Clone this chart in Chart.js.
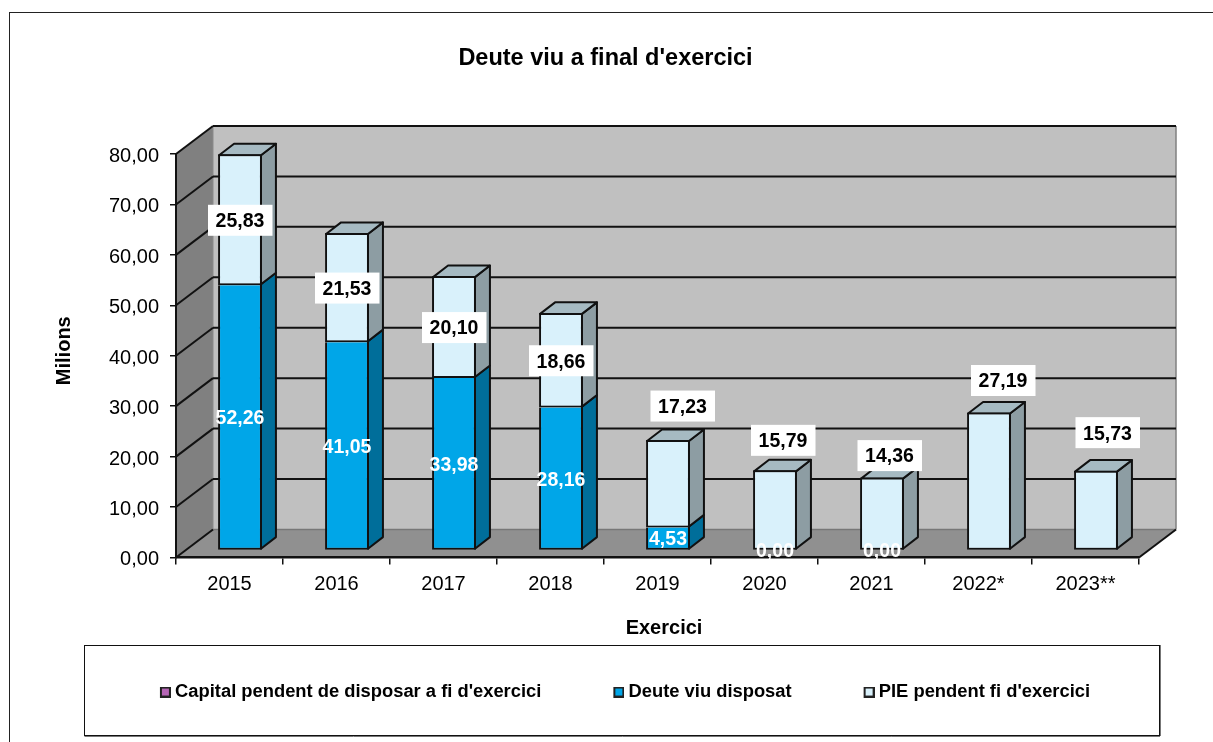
<!DOCTYPE html>
<html>
<head>
<meta charset="utf-8">
<title>Deute viu a final d'exercici</title>
<style>html,body{margin:0;padding:0;background:#fff}canvas{display:block}</style>
<script src="https://cdn.jsdelivr.net/npm/chart.js@4"></script>
</head>
<body>
<canvas id="c" width="1213" height="742"></canvas>
<script>
const years = ['2015','2016','2017','2018','2019','2020','2021','2022*','2023**'];
const capitalPendent = [null,null,null,null,null,null,null,null,null];
const deuteViu = [52.26,41.05,33.98,28.16,4.53,0,0,null,null];
const piePendent = [25.83,21.53,20.10,18.66,17.23,15.79,14.36,27.19,15.73];
const yTicks = {min:0,max:80,step:10};

// manual placement of the PIE labels that sit above their bars (px from bar top / centre)
const pieLabelNudge = [null,null,null,null,[14.5,-35],[8,-31],[7.5,-23],[14,-33],[11.5,-39]];

const FONT = '"Liberation Sans", Arial, sans-serif';
const fmt = v => v.toFixed(2).replace('.',',');
const LINE = '#111';
const FRONT = {dx:10.5, dy:-7, k:1.006};   // bars sit inside the floor depth (slight perspective scale)
const DEPTH = {dx:37, dy:-28};      // wall offset
const BAR3D = {dx:15, dy:-11.5};    // bar depth
const COLORS = ['#B565B5','#00A6E8','#D9F1FB'];

function poly(ctx, pts, fill, stroke, lw){
  ctx.beginPath();
  pts.forEach((p,i)=> i?ctx.lineTo(p[0],p[1]):ctx.moveTo(p[0],p[1]));
  ctx.closePath();
  if(fill){ctx.fillStyle=fill;ctx.fill();}
  if(stroke){ctx.strokeStyle=stroke;ctx.lineWidth=lw||2;ctx.lineJoin='round';ctx.stroke();}
}
function seg(ctx,x1,y1,x2,y2,color,lw){
  ctx.beginPath();ctx.moveTo(x1,y1);ctx.lineTo(x2,y2);ctx.strokeStyle=color;ctx.lineWidth=lw;ctx.stroke();
}
function swatch(color){
  const c=document.createElement('canvas');c.width=16;c.height=11;
  const g=c.getContext('2d');
  g.fillStyle=color;g.fillRect(6,1,9,9);
  g.strokeStyle='#222';g.lineWidth=2;g.strokeRect(6,1,9,9);
  return c;
}

const sideColors = [null,{side:'#006E9A',top:'#006E9A'},{side:'#8D9DA3',top:'#A6BAC2'}];

const scene3d = {
  id:'scene3d',
  afterLayout(chart){
    const lg = chart.legend, h = lg.bottom-lg.top;
    lg.top = 610.85; lg.bottom = lg.top+h;
    lg.left = 0; lg.right = 1250;
    const t = chart.titleBlock; t.left = 0; t.right = 1211;
    const xs = chart.scales.x, ys = chart.scales.y;
    if(!xs._shifted){
      const dt = xs.drawTitle; xs.drawTitle = function(){const c=this.ctx;c.save();c.translate(6.5,1);dt.call(this);c.restore();};
      const dy = ys.drawTitle; ys.drawTitle = function(){const c=this.ctx;c.save();c.translate(0,-5);dy.call(this);c.restore();};
      xs._shifted = true;
    }
  },
  beforeDraw(chart){
    const {ctx,scales:{y:ys},chartArea:a} = chart;
    ctx.save();
    ctx.fillStyle='#fff';ctx.fillRect(0,0,chart.width,chart.height);
    ctx.strokeStyle='#222';ctx.lineWidth=1;
    ctx.strokeRect(9.5,12.5,1300,900);
    seg(ctx,84.5,736.5,1160,736.5,'#777',1);
    seg(ctx,1160.5,645,1160.5,736,'#777',1);
    ctx.strokeStyle='#111';ctx.lineWidth=1;
    ctx.strokeRect(84.5,645.5,1075,90);
    const L=a.left,R=a.right,T=a.top,B=a.bottom,dx=DEPTH.dx,dy=DEPTH.dy;
    poly(ctx,[[L+dx,T+dy],[R+dx,T+dy],[R+dx,B+dy],[L+dx,B+dy]],'#C0C0C0');
    poly(ctx,[[L,T],[L+dx,T+dy],[L+dx,B+dy],[L,B]],'#808080');
    poly(ctx,[[L,B],[L+dx,B+dy],[R+dx,B+dy],[R,B]],'#909090');
    seg(ctx,R+dx,T+dy,R+dx,B+dy,'#808080',1.5);
    seg(ctx,L+dx,B+dy,R+dx,B+dy,'#777',1.5);
    seg(ctx,L+dx,T+dy,L+dx,B+dy,'#8a8a8a',1);
    seg(ctx,R,B,R+dx,B+dy,LINE,2);
    ys.ticks.forEach(t=>{
      const y = ys.getPixelForValue(t.value);
      seg(ctx,L,y,L+dx,y+dy,LINE,2);
      if(t.value>yTicks.min) seg(ctx,L+dx,y+dy,R+dx,y+dy,LINE,2);
    });
    ctx.restore();
  },
  beforeDatasetsDraw(chart){
    const ctx = chart.ctx, B = chart.chartArea.bottom;
    ctx.save();
    ctx.translate(FRONT.dx,FRONT.dy);
    ctx.translate(0,B);ctx.scale(1,FRONT.k);ctx.translate(0,-B);
    const n = chart.data.labels.length;
    for(let i=0;i<n;i++){
      let topDs=-1;
      chart.data.datasets.forEach((d,k)=>{ if(d.data[i]) topDs=k; });
      chart.data.datasets.forEach((d,k)=>{
        const v=d.data[i];
        if(!v) return;
        const e=chart.getDatasetMeta(k).data[i];
        const l=e.x-e.width/2+1, r=e.x+e.width/2-1, b=Math.max(e.y,e.base)-1;
        const t=Math.min(e.y,e.base)+(k===topDs?1:-1);
        const c=sideColors[k];
        poly(ctx,[[r,t],[r+BAR3D.dx,t+BAR3D.dy],[r+BAR3D.dx,b+BAR3D.dy],[r,b]],c.side,LINE,2);
        if(k===topDs) poly(ctx,[[l,t],[l+BAR3D.dx,t+BAR3D.dy],[r+BAR3D.dx,t+BAR3D.dy],[r,t]],c.top,LINE,2);
      });
    }
  },
  afterDatasetsDraw(chart){
    const ctx = chart.ctx, B = chart.chartArea.bottom;
    ctx.restore();
    ctx.save();
    const my = y => B+(y-B)*FRONT.k+FRONT.dy;
    ctx.font='bold 19.5px '+FONT;
    ctx.textAlign='center';ctx.textBaseline='middle';
    const dm=chart.getDatasetMeta(1), pm=chart.getDatasetMeta(2);
    deuteViu.forEach((v,i)=>{
      if(v===null) return;
      const e=dm.data[i];
      ctx.fillStyle='#fff';
      ctx.fillText(fmt(v),e.x+FRONT.dx,my((e.y+e.base)/2)+1.5);
    });
    piePendent.forEach((v,i)=>{
      const e=pm.data[i], nudge=pieLabelNudge[i];
      const cx=e.x+FRONT.dx+(nudge?nudge[0]:0);
      const cy=nudge? my(e.y)+nudge[1]+1 : my((e.y+e.base)/2)+0.5;
      ctx.fillStyle='#fff';ctx.fillRect(cx-32,cy-15.5,64.5,31);
      ctx.fillStyle='#000';ctx.fillText(fmt(v),cx,cy+1.5);
    });
    ctx.restore();
  }
};

new Chart(document.getElementById('c'),{
  type:'bar',
  data:{labels:years,datasets:[
    {label:"Capital pendent de disposar a fi d'exercici",data:capitalPendent,backgroundColor:COLORS[0],borderColor:LINE,borderWidth:2,borderSkipped:false,clip:false},
    {label:'Deute viu disposat',data:deuteViu,backgroundColor:COLORS[1],borderColor:LINE,borderWidth:2,borderSkipped:'top',clip:false},
    {label:"PIE pendent fi d'exercici",data:piePendent,backgroundColor:COLORS[2],borderColor:LINE,borderWidth:2,borderSkipped:false,clip:false}
  ]},
  options:{
    responsive:false,animation:false,
    barPercentage:0.41,categoryPercentage:1,
    layout:{padding:{left:0,right:74,top:0,bottom:1.7}},
    plugins:{
      tooltip:{enabled:false},
      title:{display:true,text:"Deute viu a final d'exercici",color:'#000',font:{family:FONT,size:23.5,weight:'bold',lineHeight:1.2},padding:{top:44.5,bottom:81.3}},
      legend:{display:true,position:'bottom',labels:{
        color:'#000',font:{family:FONT,size:18.35,weight:'bold'},padding:72,
        usePointStyle:true,pointStyleWidth:6,boxHeight:11,
        generateLabels(chart){
          return Chart.defaults.plugins.legend.labels.generateLabels(chart).map((it,i)=>({...it,pointStyle:swatch(COLORS[i])}));
        }
      }}
    },
    scales:{
      x:{stacked:true,
        afterFit(s){s.height=82.5;},
        grid:{drawOnChartArea:false,drawTicks:true,tickLength:7,color:'#111',lineWidth:1.5},
        border:{color:LINE,width:2.5},
        ticks:{color:'#000',font:{family:FONT,size:20},padding:8,autoSkip:false,maxRotation:0},
        title:{display:true,text:'Exercici',color:'#000',font:{family:FONT,size:20,weight:'bold'},padding:{top:0,bottom:0}}
      },
      y:{stacked:true,min:yTicks.min,max:yTicks.max,
        afterFit(s){s.width=176;},
        grid:{drawOnChartArea:false,drawTicks:true,tickLength:6,color:'#111',lineWidth:1.5},
        border:{color:LINE,width:2},
        ticks:{stepSize:yTicks.step,color:'#000',font:{family:FONT,size:20},padding:11,labelOffset:2.5,callback:v=>fmt(v)},
        title:{display:true,text:'Milions',color:'#000',font:{family:FONT,size:20,weight:'bold'},padding:{top:52,bottom:0}}
      }
    }
  },
  plugins:[scene3d]
});
</script>
</body>
</html>
